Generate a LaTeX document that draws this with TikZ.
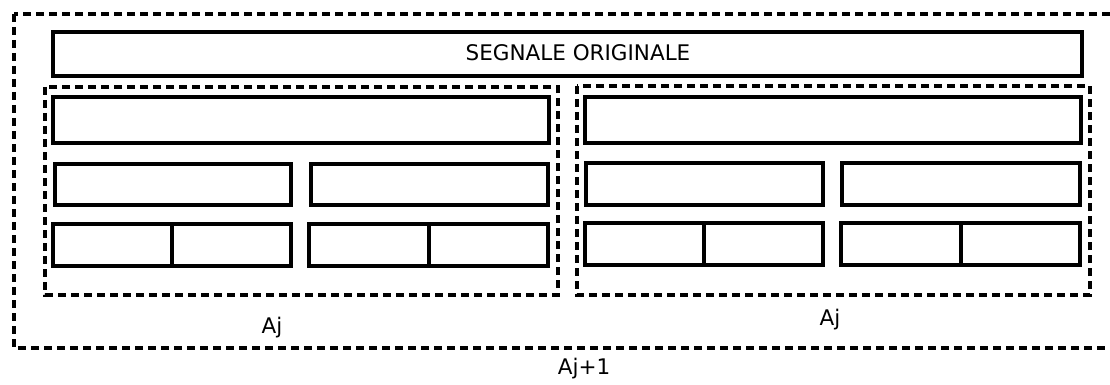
\documentclass[tikz,border=0pt]{standalone}
\usepackage{fontspec}
\setmainfont{DejaVu Sans}
\usetikzlibrary{positioning}

\tikzset{
  cella/.style={draw,line width=3.2pt,inner sep=0pt},
  gruppo/.style={draw,line width=3.2pt,dash pattern=on 8pt off 5pt},
  etichetta/.style={font=\fontsize{21.5}{25}\selectfont,inner sep=0pt}
}

\begin{document}
\begin{tikzpicture}[x=1pt,y=-1pt]
      \clip (0,0) rectangle (1110,385);
      % cornice esterna
      \draw[gruppo] (14,14) rectangle (1125,348);
      \node[etichetta] (ajuno) at (584,369) {Aj+1};
      % segnale
      \draw[cella] (53,32) rectangle (1082,76);
      \node[etichetta] (segnale) at (578,53) {SEGNALE ORIGINALE};
      % gruppo sinistro
      \draw[gruppo] (45,87) rectangle (558,295);
      \draw[cella] (53,97) rectangle (549,143);
      \draw[cella] (55,164) rectangle (291,205);
      \draw[cella] (311,164) rectangle (548,205);
      \draw[cella] (53,224) rectangle (291,266);
      \draw[cella] (172,224) -- (172,266);
      \draw[cella] (309,224) rectangle (548,266);
      \draw[cella] (429,224) -- (429,266);
      \node[etichetta] (ajsx) at (272,328) {Aj};
      % gruppo destro
      \draw[gruppo] (577,86) rectangle (1090,295);
      \draw[cella] (585,97) rectangle (1081,143);
      \draw[cella] (586,163) rectangle (823,205);
      \draw[cella] (842,163) rectangle (1080,205);
      \draw[cella] (585,223) rectangle (823,265);
      \draw[cella] (704,223) -- (704,265);
      \draw[cella] (841,223) rectangle (1080,265);
      \draw[cella] (961,223) -- (961,265);
      \node[etichetta] (ajdx) at (830,320) {Aj};
    \end{tikzpicture}
\end{document}
